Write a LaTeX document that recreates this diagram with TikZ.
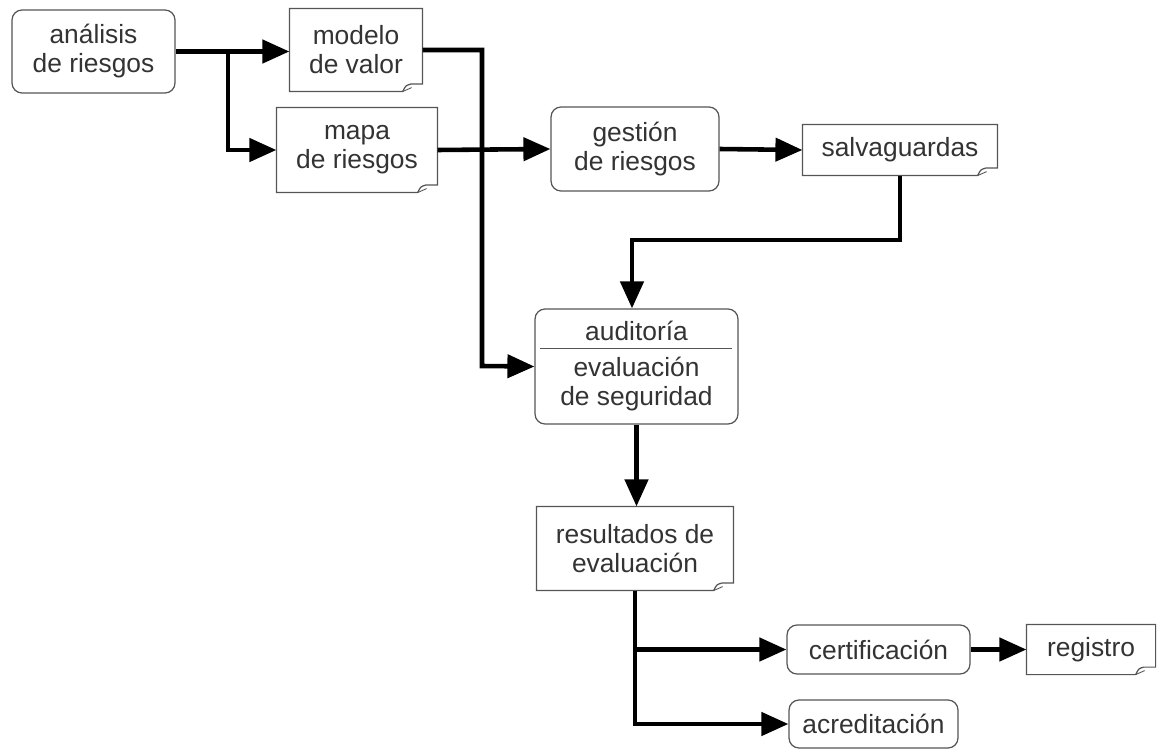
\documentclass[tikz,border=0pt]{standalone}
\usepackage{fontspec}
\setmainfont{Liberation Sans}
\usetikzlibrary{arrows.meta}

\definecolor{boxgray}{HTML}{555555}
\definecolor{txtgray}{HTML}{333333}

\tikzset{
  box/.style={draw=boxgray, line width=0.7pt, rounded corners=0.2cm, fill=white,
    align=center, inner sep=0pt, text=txtgray, font=\fontsize{15}{16.5}\selectfont},
  doc/.style={box, draw=none},
  flow/.style={line width=2.6pt, -{Triangle[length=0.54cm,width=0.46cm]}}
}

\begin{document}
\begin{tikzpicture}[x=0.02cm, y=-0.02cm]

    % Fix the page to the reference size
    \useasboundingbox (0,0) rectangle (1166,750);

    % Boxes with rounded corners
    \node[box, minimum width=3.26cm, minimum height=1.66cm] (ana) at (93.5,51.5) {análisis\\de riesgos};
    \node[box, minimum width=3.36cm, minimum height=1.68cm] (ges) at (635,149) {gestión\\de riesgos};
    \node[box, minimum width=4.06cm, minimum height=2.3cm] (aud) at (636.5,366.5) {auditoría\\[0.14cm]evaluación\\de seguridad};
    \node[box, minimum width=3.66cm, minimum height=0.98cm] (cert) at (878.5,649.5) {certificación};
    \node[box, minimum width=3.38cm, minimum height=0.96cm] (acr) at (873.5,724) {acreditación};

    % Documents (outline with folded corner drawn below)
    \node[doc, minimum width=2.64cm, minimum height=1.64cm] (mod) at (356,50) {modelo\\de valor};
    \node[doc, minimum width=3.2cm, minimum height=1.68cm] (mapa) at (357,150) {mapa\\de riesgos};
    \node[doc, minimum width=3.88cm, minimum height=1.0cm] (salva) at (900,150) {salvaguardas};
    \node[doc, minimum width=3.92cm, minimum height=1.66cm] (res) at (635,548.5) {resultados de\\evaluación};
    \node[doc, minimum width=2.56cm, minimum height=0.98cm] (reg) at (1091,649.5) {registro};

    \foreach \n in {mod, mapa, salva, res, reg} {
      \draw[boxgray, line width=0.7pt]
        ([xshift=-0.4cm]\n.south east) -- (\n.south west) -- (\n.north west)
        -- (\n.north east) -- ([yshift=0.15cm]\n.south east)
        -- ([xshift=-0.24cm,yshift=0.15cm]\n.south east)
        .. controls ([xshift=-0.34cm,yshift=0.12cm]\n.south east) .. ([xshift=-0.4cm]\n.south east);
      \draw[boxgray, line width=0.5pt]
        ([xshift=-0.4cm]\n.south east) -- ([xshift=-0.22cm,yshift=0.08cm]\n.south east);
    }

    % Divider in the audit box
    \draw[boxgray, line width=0.8pt] ([xshift=0.12cm,yshift=-0.8cm]aud.north west) -- ([xshift=-0.14cm,yshift=-0.8cm]aud.north east);

    % Branch points
    \coordinate (b1) at (228,51);
    \coordinate (b2) at (482,366);
    \coordinate (b3) at (632,240);

    % Connectors
    \draw[flow] (ana.east) -- (ana.east -| mod.west);
    \draw[flow] (b1) |- (mapa.west);
    \draw[flow] (mod.east) -| (b2) -- (aud.west);
    \draw[flow] (mapa.east) -- (ges.west);
    \draw[flow] (ges.east) -- (salva.west);
    \draw[flow] (salva.south) |- (b3) -- (b3 |- aud.north);
    \draw[flow] (aud.south) -- (aud.south |- res.north);
    \draw[flow] (res.south) |- (acr.west);
    \draw[flow] (res.south |- cert.west) -- (cert.west);
    \draw[flow] (cert.east) -- (reg.west);

\end{tikzpicture}
\end{document}
